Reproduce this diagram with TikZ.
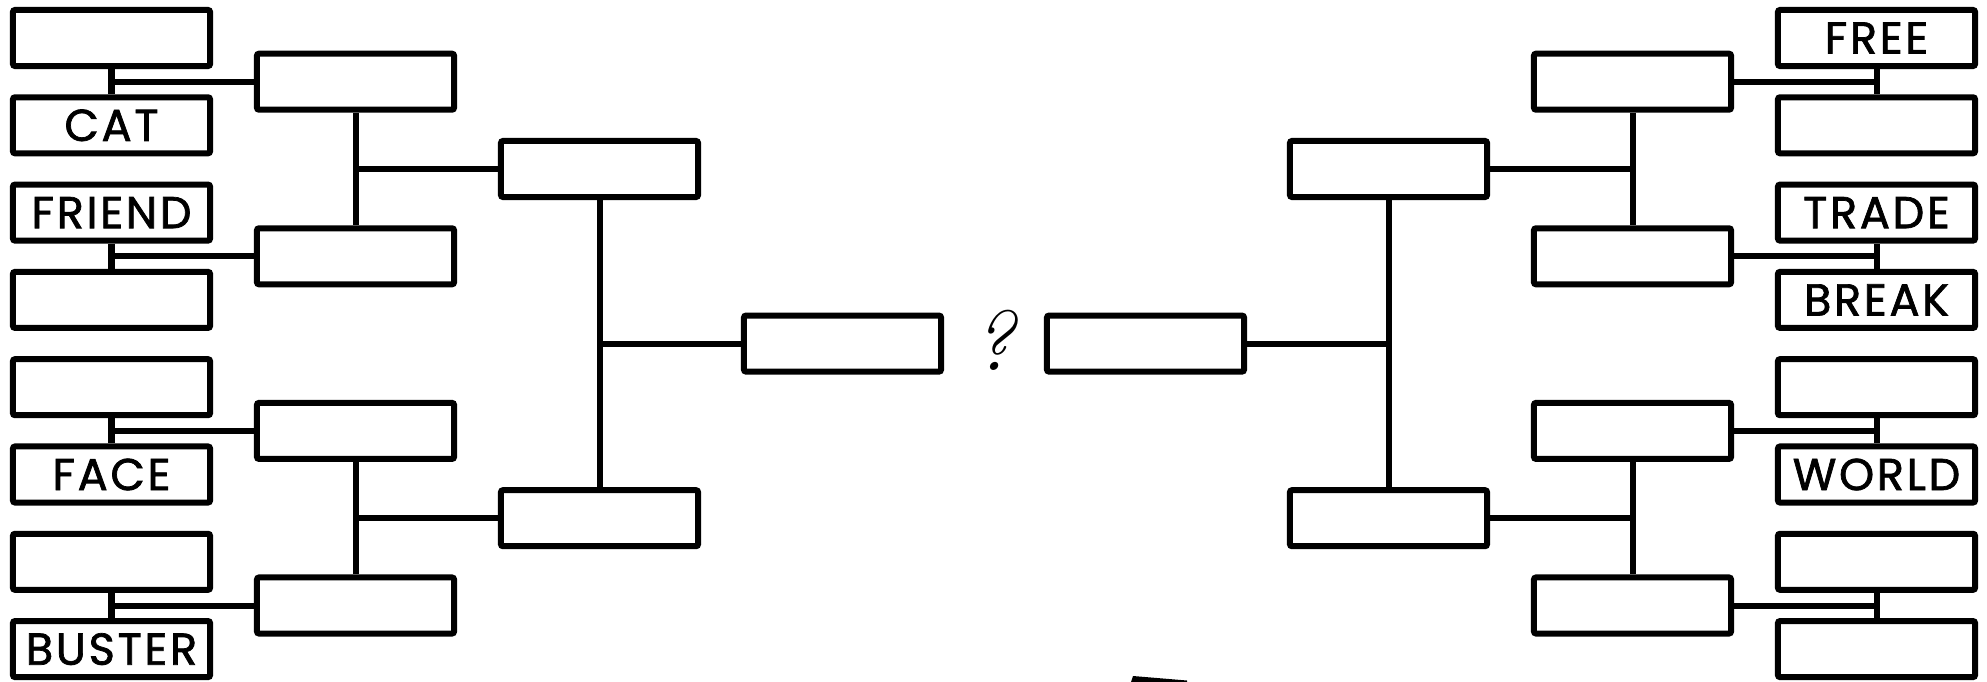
\documentclass[tikz,border=0pt]{standalone}
\usepackage{fontspec}
\newfontfamily\slotfont{Poppins}[FakeBold=1.6, LetterSpace=6]
\usetikzlibrary{positioning, calc}

\begin{document}
\begin{tikzpicture}[
    x=0.01cm, y=0.01cm,
    slot/.style={draw, line width=0.06cm, rounded corners=0.6pt, minimum width=1.97cm, minimum height=0.56cm, inner sep=0pt, font=\slotfont\fontsize{12.7}{12.7}\selectfont},
    link/.style={line width=0.06cm}
]
    \useasboundingbox (0,0) rectangle (1987,-682);

    % Left side, first round
    \node[slot] (l1) at (111.5,-38) {};
    \node[slot] (l2) at (111.5,-125.3) {CAT};
    \node[slot] (l3) at (111.5,-212.6) {FRIEND};
    \node[slot] (l4) at (111.5,-299.9) {};
    \node[slot] (l5) at (111.5,-387.2) {};
    \node[slot] (l6) at (111.5,-474.5) {FACE};
    \node[slot] (l7) at (111.5,-561.8) {};
    \node[slot] (l8) at (111.5,-649.1) {BUSTER};

    % Left side, later rounds
    \node[slot] (lq1) at (355.5,-81.7) {};
    \node[slot] (lq2) at (355.5,-256.3) {};
    \node[slot] (lq3) at (355.5,-430.9) {};
    \node[slot] (lq4) at (355.5,-605.5) {};
    \node[slot] (ls1) at (599.5,-169) {};
    \node[slot] (ls2) at (599.5,-518.2) {};
    \node[slot] (lf) at (842.5,-343.6) {};

    % Right side, first round
    \node[slot] (r1) at (1876.5,-38) {FREE};
    \node[slot] (r2) at (1876.5,-125.3) {};
    \node[slot] (r3) at (1876.5,-212.6) {TRADE};
    \node[slot] (r4) at (1876.5,-299.9) {BREAK};
    \node[slot] (r5) at (1876.5,-387.2) {};
    \node[slot] (r6) at (1876.5,-474.5) {WORLD};
    \node[slot] (r7) at (1876.5,-561.8) {};
    \node[slot] (r8) at (1876.5,-649.1) {};

    % Right side, later rounds
    \node[slot] (rq1) at (1632.5,-81.7) {};
    \node[slot] (rq2) at (1632.5,-256.3) {};
    \node[slot] (rq3) at (1632.5,-430.9) {};
    \node[slot] (rq4) at (1632.5,-605.5) {};
    \node[slot] (rs1) at (1388.5,-169) {};
    \node[slot] (rs2) at (1388.5,-518.2) {};
    \node[slot] (rf) at (1145.5,-343.6) {};

    % Middle
    \node (quest) at (994,-340) {\fontsize{24}{24}\selectfont\itshape ?};

    % Left connections
    \draw[link] (l1) -- (l2);
    \draw[link] (l3) -- (l4);
    \draw[link] (l5) -- (l6);
    \draw[link] (l7) -- (l8);
    \draw[link] (lq1) -- (lq1 -| l1);
    \draw[link] (lq2) -- (lq2 -| l3);
    \draw[link] (lq3) -- (lq3 -| l5);
    \draw[link] (lq4) -- (lq4 -| l7);
    \draw[link] (lq1) -- (lq2);
    \draw[link] (lq3) -- (lq4);
    \draw[link] (ls1) -- (ls1 -| lq1);
    \draw[link] (ls2) -- (ls2 -| lq3);
    \draw[link] (ls1) -- (ls2);
    \draw[link] (lf) -- (lf -| ls1);

    % Right connections
    \draw[link] (r1) -- (r2);
    \draw[link] (r3) -- (r4);
    \draw[link] (r5) -- (r6);
    \draw[link] (r7) -- (r8);
    \draw[link] (rq1) -- (rq1 -| r1);
    \draw[link] (rq2) -- (rq2 -| r3);
    \draw[link] (rq3) -- (rq3 -| r5);
    \draw[link] (rq4) -- (rq4 -| r7);
    \draw[link] (rq1) -- (rq2);
    \draw[link] (rq3) -- (rq4);
    \draw[link] (rs1) -- (rs1 -| rq1);
    \draw[link] (rs2) -- (rs2 -| rq3);
    \draw[link] (rs1) -- (rs2);
    \draw[link] (rf) -- (rf -| rs1);

    % Stray stroke at the bottom edge
    \fill (1131,-682) -- (1133,-676) -- (1187,-680.5) -- (1187,-682) -- cycle;

\end{tikzpicture}
\end{document}
